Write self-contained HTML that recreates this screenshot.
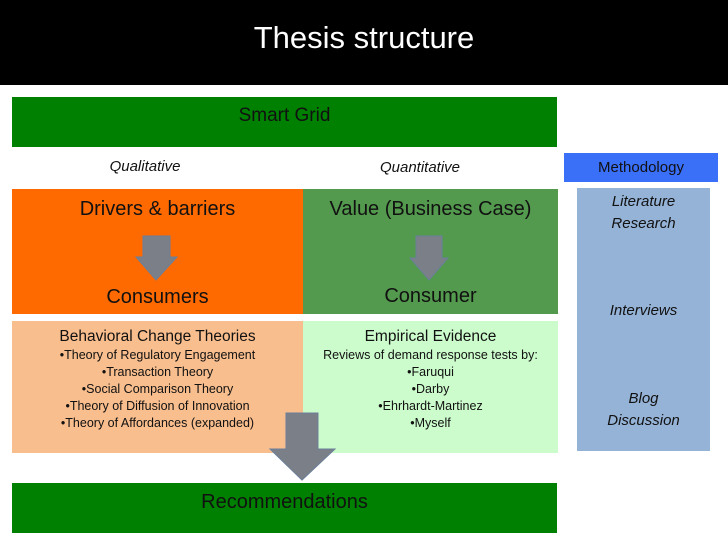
<!DOCTYPE html>
<html><head><style>
body{margin:0;width:728px;height:546px;background:#fff;position:relative;overflow:hidden;font-family:"Liberation Sans",sans-serif;color:#111}
div{position:absolute;box-sizing:border-box}
.c{text-align:center}
</style></head><body>
<div style="left:0;top:0;width:728px;height:85px;background:#000"></div>
<div class="c" style="left:0;top:20px;width:728px;color:#fff;font-size:31px">Thesis structure</div>
<div class="c" style="left:12px;top:97px;width:545px;height:50px;background:#008000;font-size:19px;padding-top:8px;">Smart Grid</div>
<div class="c" style="left:60px;top:158px;width:170px;font-size:15px;font-style:italic">Qualitative</div>
<div class="c" style="left:330px;top:159px;width:180px;font-size:15px;font-style:italic">Quantitative</div>
<div class="c" style="left:564px;top:153px;width:154px;height:29px;background:#3a6ff7;font-size:15px;padding-top:6px">Methodology</div>
<div style="left:12px;top:189px;width:291px;height:125px;background:#ff6a00"></div>
<div class="c" style="left:12px;top:198px;width:291px;font-size:20px">Drivers &amp; barriers</div>
<div class="c" style="left:12px;top:286px;width:291px;font-size:20px">Consumers</div>
<div style="left:303px;top:189px;width:255px;height:125px;background:#53994e"></div>
<div class="c" style="left:303px;top:198px;width:255px;font-size:20px">Value (Business Case)</div>
<div class="c" style="left:303px;top:285px;width:255px;font-size:20px">Consumer</div>
<div style="left:12px;top:321px;width:291px;height:132px;background:#f9be8e"></div>
<div class="c" style="left:12px;top:327px;width:291px;font-size:15.5px;line-height:20px">Behavioral Change Theories</div>
<div class="c" style="left:12px;top:347px;width:291px;font-size:12.5px;line-height:17px">•Theory of Regulatory Engagement<br>•Transaction Theory<br>•Social Comparison Theory<br>•Theory of Diffusion of Innovation<br>•Theory of Affordances (expanded)</div>
<div style="left:303px;top:321px;width:255px;height:132px;background:#ccfccc"></div>
<div class="c" style="left:303px;top:327px;width:255px;font-size:15.5px;line-height:20px">Empirical Evidence</div>
<div class="c" style="left:303px;top:347px;width:255px;font-size:12.5px;line-height:17px">Reviews of demand response tests by:<br>•Faruqui<br>•Darby<br>•Ehrhardt-Martinez<br>•Myself</div>
<div style="left:577px;top:188px;width:133px;height:263px;background:#95b3d7"></div>
<div class="c" style="left:577px;top:191px;width:133px;font-size:15px;font-style:italic;line-height:22px">Literature<br>Research</div>
<div class="c" style="left:577px;top:302px;width:133px;font-size:15px;font-style:italic">Interviews</div>
<div class="c" style="left:577px;top:388px;width:133px;font-size:15px;font-style:italic;line-height:22px">Blog<br>Discussion</div>
<div class="c" style="left:12px;top:483px;width:545px;height:50px;background:#008000;font-size:20px;padding-top:8px">Recommendations</div>
<svg style="position:absolute;left:0;top:0" width="728" height="546">
<g fill="#7b7f87" stroke="#6b7f9a" stroke-width="1">
<polygon points="143,236 170,236 170,257 177,257 156,280 136,257 143,257"/>
<polygon points="416,236 442,236 442,258 448,258 429,280 410,258 416,258"/>
<polygon points="286,413 318,413 318,449 335,449 302,480 270,449 286,449"/>
</g></svg>
</body></html>
